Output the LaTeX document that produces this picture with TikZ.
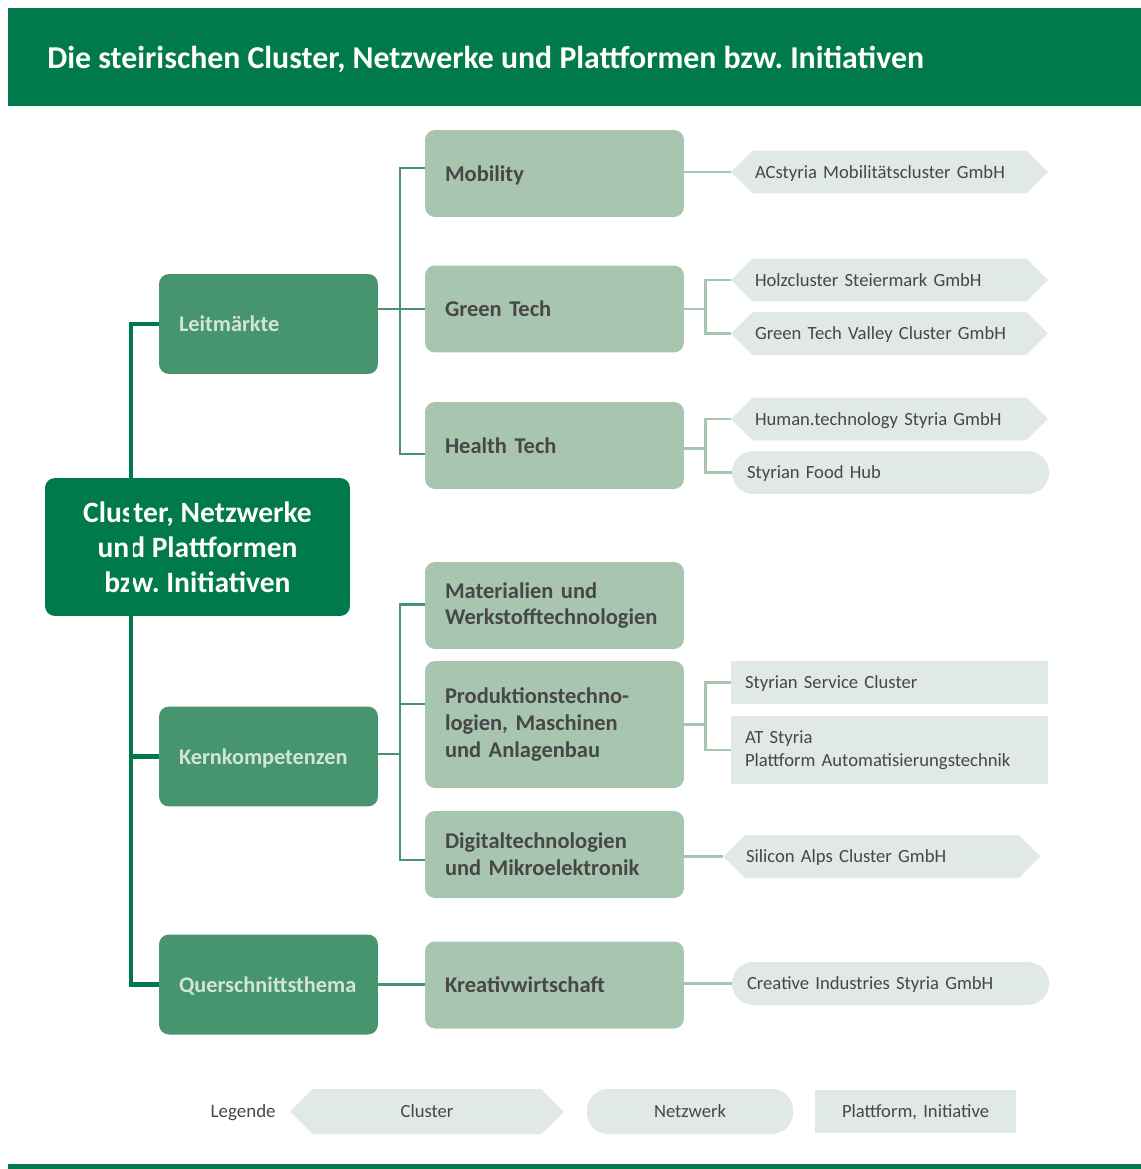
\documentclass[tikz,border=0pt]{standalone}
\usepackage{fontspec}
\setmainfont{Carlito}
\usetikzlibrary{positioning,shapes.symbols}
\definecolor{StGreen}{HTML}{007A4B}
\definecolor{MidGreen}{HTML}{47956E}
\definecolor{SageGreen}{HTML}{A8C5AF}
\definecolor{PaleGreen}{HTML}{E0E9E3}
\definecolor{LeafText}{HTML}{D2E5D8}
\definecolor{DarkGray}{HTML}{474747}
\frenchspacing

\begin{document}
\begin{tikzpicture}[x=0.02cm, y=-0.02cm,
  flat/.style={text depth=0pt},
  rootbox/.style={rounded corners=0.2cm, fill=StGreen, minimum width=6.1cm,
                  minimum height=2.76cm, align=center, inner sep=0pt,
                  font=\fontsize{16.8}{19.8}\selectfont\bfseries\color{white}},
  marktbox/.style={flat, rounded corners=0.2cm, fill=MidGreen, minimum width=4.38cm,
                   minimum height=2cm, text width=3.58cm, align=left, inner sep=0pt,
                   font=\fontsize{12.7}{15.3}\selectfont\bfseries\color{LeafText}},
  themabox/.style={rounded corners=0.2cm, fill=SageGreen, minimum width=5.18cm,
                   minimum height=1.74cm, text width=4.38cm, align=left, inner sep=0pt,
                   font=\fontsize{12.8}{15.3}\selectfont\bfseries\color{DarkGray}},
  leaf/.style={fill=PaleGreen, minimum width=6.34cm, minimum height=0.86cm,
               align=left, inner sep=0pt,
               font=\fontsize{10.6}{13}\selectfont\color{DarkGray}},
  clusterhex/.style={leaf, flat, signal, signal to=west and east,
                     signal pointer angle=90, text width=5.38cm},
  netzpill/.style={leaf, flat, rounded corners=0.42cm, text width=5.74cm},
  plattbox/.style={leaf, text width=5.78cm},
  trunk/.style={draw=StGreen, line width=2.3pt},
  twig/.style={draw=MidGreen, line width=1.2pt},
  stalk/.style={draw=SageGreen, line width=1.4pt}]

  \useasboundingbox (0,0) rectangle (1141,1169);

  % header and footer
  \fill[StGreen] (8,8) rectangle (1141,106);
  \fill[StGreen] (8,1164) rectangle (1141,1169);
  \node[anchor=west, inner sep=0pt, text=white,
        font=\fontsize{18.1}{21}\selectfont\bfseries] (title) at (47,59)
    {Die steirischen Cluster, Netzwerke und Plattformen bzw. Initiativen};

  % root and the three fields
  \node[rootbox] (root) at (197.5,547)
    {Cluster, Netzwerke\\und Plattformen\\bzw. Initiativen};
  \node[marktbox] (lm) at (268.5,324) {Leitmärkte};
  \node[marktbox] (kk) at (268.5,756.5) {Kernkompetenzen};
  \node[marktbox] (qt) at (268.5,984.5) {Querschnittsthema};

  % themes
  \node[themabox, flat] (mob) at (554.5,173.5) {Mobility};
  \node[themabox, flat] (gt)  at (554.5,309) {Green Tech};
  \node[themabox, flat] (ht)  at (554.5,445.5) {Health Tech};
  \node[themabox] (mat) at (554.5,605.5) {Materialien und\\Werkstofftechnologien};
  \node[themabox, minimum height=2.54cm] (prod) at (554.5,724.5)
    {Produktionstechno-\\logien, Maschinen\\und Anlagenbau};
  \node[themabox] (dig) at (554.5,854.5) {Digitaltechnologien\\und Mikroelektronik};
  \node[themabox, flat] (kw)  at (554.5,985) {Kreativwirtschaft};

  % clusters, networks, platforms
  \node[clusterhex] (acs)  at (889.5,172) {ACstyria Mobilitätscluster GmbH};
  \node[clusterhex] (holz) at (889.5,280) {Holzcluster Steiermark GmbH};
  \node[clusterhex] (gtv)  at (889.5,333.5) {Green Tech Valley Cluster GmbH};
  \node[clusterhex] (hum)  at (889.5,419) {Human.technology Styria GmbH};
  \node[netzpill]   (food) at (890.5,472.5) {Styrian Food Hub};
  \node[plattbox, flat] (ssc) at (889.5,682.5) {Styrian Service Cluster};
  \node[plattbox, minimum height=1.36cm] (ats) at (889.5,750)
    {AT Styria\\Plattform Automatisierungstechnik};
  \node[clusterhex, text width=5.44cm] (sil) at (882,856.5) {Silicon Alps Cluster GmbH};
  \node[netzpill]   (cis)  at (890.5,983.5) {Creative Industries Styria GmbH};

  % trunk
  \draw[trunk] (lm.west) -- ++(-28,0) |- (qt.west);
  \draw[trunk] (kk.west) -- ++(-28,0);

  % field to theme
  \draw[twig] (lm.east |- gt.west) -- (gt.west);
  \draw[twig] ([yshift=0.11cm]mob.west) -- ++(-25,0) |- ([yshift=-0.17cm]ht.west);
  \draw[twig] ([yshift=0.05cm]kk.east) -- ++(22,0);
  \draw[twig] ([yshift=0.02cm]mat.west) -- ++(-25,0) |- ([yshift=-0.11cm]dig.west);
  \draw[twig] ([yshift=0.41cm]prod.west) -- ++(-25,0);
  \draw[twig] (qt.east) -- (qt.east -| kw.west);

  % theme to members
  \draw[stalk] (mob.east |- acs.west) -- (acs.west);
  \draw[stalk] (gt.east) -- ++(21,0) |- (holz.west);
  \draw[stalk] (gt.east) -- ++(21,0) |- (gtv.west);
  \draw[stalk] ([yshift=-0.06cm]ht.east) -- ++(21,0) |- (hum.west);
  \draw[stalk] ([yshift=-0.06cm]ht.east) -- ++(21,0) |- (food.west);
  \draw[stalk] (prod.east) -- ++(21,0) |- (ssc.west);
  \draw[stalk] (prod.east) -- ++(21,0) |- (ats.west);
  \draw[stalk] (dig.east |- sil.west) -- (sil.west);
  \draw[stalk] (kw.east |- cis.west) -- (cis.west);

  % legend
  \node[anchor=east, inner sep=0pt, text=DarkGray, font=\fontsize{10.8}{13}\selectfont]
    (leg) at (276,1113) {Legende};
  \node[clusterhex, minimum width=5.48cm, minimum height=0.9cm, text width=3.6cm,
        align=center] (lgc) at (427,1111.5) {Cluster};
  \node[netzpill, minimum width=4.12cm, minimum height=0.9cm, text width=3.2cm,
        align=center] (lgn) at (690,1111.5) {Netzwerk};
  \node[plattbox, flat, minimum width=4.02cm, text width=3.6cm,
        align=center] (lgp) at (915.5,1111.5) {Plattform, Initiative};
\end{tikzpicture}
\end{document}
